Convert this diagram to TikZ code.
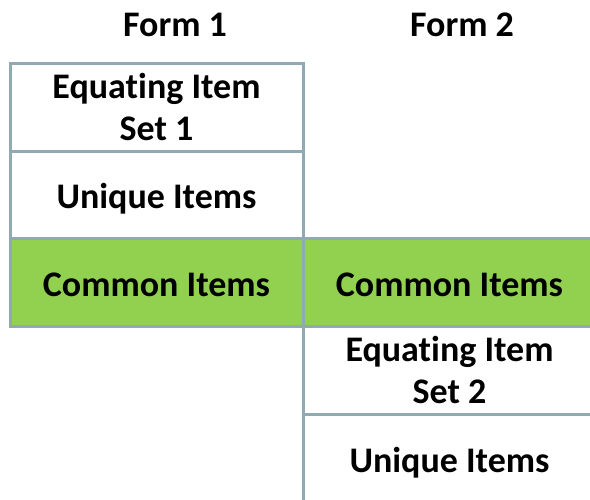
\documentclass[tikz,border=0pt]{standalone}
\usepackage{fontspec}
\setmainfont{Carlito}[Ligatures={CommonOff,ContextualOff}]
\definecolor{gridc}{RGB}{143,170,176}
\definecolor{greenc}{RGB}{146,208,80}
\newcommand{\lowertxt}[2]{\raisebox{-#1}[\height][\depth]{#2}}
\begin{document}
\begin{tikzpicture}[x=1pt,y=-1pt,
  cell/.style={draw=gridc, line width=3pt, minimum width=293pt, minimum height=88pt,
    inner sep=0pt, align=center, font=\fontsize{36}{42}\selectfont\bfseries},
  common/.style={cell, fill=greenc},
  head/.style={inner sep=0pt, font=\fontsize{36}{42}\selectfont\bfseries}]
\useasboundingbox (0,0) rectangle (590,499);
\clip (0,0) rectangle (590,499);
\node[head] (f1) at (175,25) {Form 1};
\node[head] (f2) at (462,25) {Form 2};
\node[cell] (eq1) at (156.5,107) {Equa{}ting Item\\Set 1};
\node[cell] (un1) at (156.5,195) {\lowertxt{4pt}{Unique Items}};
\node[common] (co1) at (156.5,282.5) {\lowertxt{2pt}{Common Items}};
\node[common] (co2) at (449.5,282.5) {\lowertxt{2pt}{Common Items}};
\node[cell] (eq2) at (449.5,370) {Equa{}ting Item\\Set 2};
\node[cell] (un2) at (449.5,458) {\lowertxt{5pt}{Unique Items}};
\end{tikzpicture}
\end{document}
